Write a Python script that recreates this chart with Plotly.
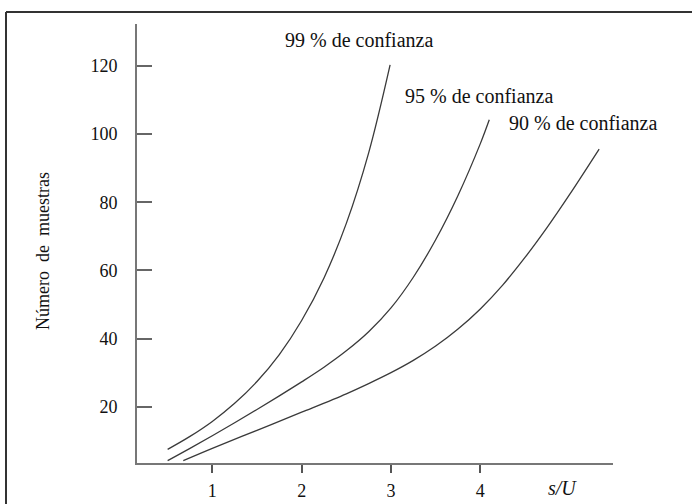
import plotly.graph_objects as go

# data (s/U vs number of samples)
x99 = [0.5, 0.75, 1.0, 1.25, 1.5, 1.75, 2.0, 2.25, 2.5, 2.75, 2.99]
y99 = [7.5, 11.3, 15.7, 21.0, 27.4, 35.3, 45.3, 57.8, 73.8, 94.5, 120.3]

x95 = [0.5, 0.75, 1.0, 1.25, 1.5, 1.75, 2.0, 2.25, 2.5, 2.75, 3.0, 3.25, 3.5, 3.75, 4.0, 4.1]
y95 = [4.2, 7.8, 11.5, 15.3, 19.2, 23.2, 27.3, 31.6, 36.4, 42.0, 49.0, 58.0, 69.0, 82.0, 97.2, 104.2]

x90 = [0.675, 1.0, 1.5, 2.0, 2.5, 2.75, 3.0, 3.25, 3.5, 3.75, 4.0, 4.25, 4.5, 4.75, 5.0, 5.33]
y90 = [4.2, 7.8, 13.1, 18.4, 23.8, 26.8, 30.0, 33.6, 37.8, 42.8, 48.7, 55.7, 63.8, 72.7, 82.3, 95.6]

series_labels = ["99 % de confianza", "95 % de confianza", "90 % de confianza"]
label_x = [1.788, 3.131, 4.295]
label_y = [127.6, 111.2, 103.4]

xticks = [1, 2, 3, 4]
yticks = [20, 40, 60, 80, 100, 120]

FONT = "Liberation Serif"

fig = go.Figure()
for xs, ys in [(x99, y99), (x95, y95), (x90, y90)]:
    fig.add_trace(go.Scatter(x=xs, y=ys, mode="lines",
                             line=dict(color="#3a3a3a", width=1.3, shape="spline", smoothing=1.0),
                             showlegend=False, hoverinfo="skip"))

annotations = []
for t, lx, ly in zip(series_labels, label_x, label_y):
    annotations.append(dict(x=lx, y=ly, xref="x", yref="y", text=t, showarrow=False,
                            xanchor="left", yanchor="middle",
                            font=dict(family=FONT, size=20, color="#111111")))
annotations.append(dict(x=4.925, y=0, xref="x", yref="paper", text="<i>s/U</i>",
                        showarrow=False, xanchor="center", yanchor="middle", yshift=-25,
                        font=dict(family=FONT, size=20, color="#111111")))
annotations.append(dict(x=(43 - 137) / 476, y=(463 - 251) / 439, xref="paper", yref="paper",
                        text="Número\u00a0\u00a0de\u00a0\u00a0muestras", textangle=-90,
                        showarrow=False, xanchor="center", yanchor="middle",
                        font=dict(family=FONT, size=18, color="#111111")))

fig.update_layout(
    width=692, height=504,
    margin=dict(l=137, r=79, t=24, b=41),
    paper_bgcolor="white", plot_bgcolor="white",
    xaxis=dict(range=[0.157, 5.485], tickvals=xticks, ticks="outside", ticklen=8,
               tickcolor="#555555", tickwidth=1.5, ticklabelstandoff=2, automargin=False,
               showline=True, linecolor="#777777", linewidth=2, showgrid=False,
               zeroline=False, tickfont=dict(family=FONT, size=18, color="#111111")),
    yaxis=dict(range=[3.5, 132.3], tickvals=yticks, ticks="inside", ticklen=15,
               tickcolor="#666666", tickwidth=1.5, ticklabelstandoff=14, automargin=False,
               showline=True, linecolor="#777777", linewidth=2, showgrid=False,
               zeroline=False, tickfont=dict(family=FONT, size=18, color="#111111")),
    annotations=annotations,
    shapes=[
        dict(type="line", xref="paper", yref="paper",
             x0=(6 - 137) / 476, x1=(692 - 137) / 476,
             y0=(463 - 12) / 439, y1=(463 - 12) / 439,
             line=dict(color="#333333", width=2)),
        dict(type="line", xref="paper", yref="paper",
             x0=(6 - 137) / 476, x1=(6 - 137) / 476,
             y0=(463 - 12) / 439, y1=(463 - 504) / 439,
             line=dict(color="#333333", width=2)),
    ],
)

fig.write_html("out.html")
